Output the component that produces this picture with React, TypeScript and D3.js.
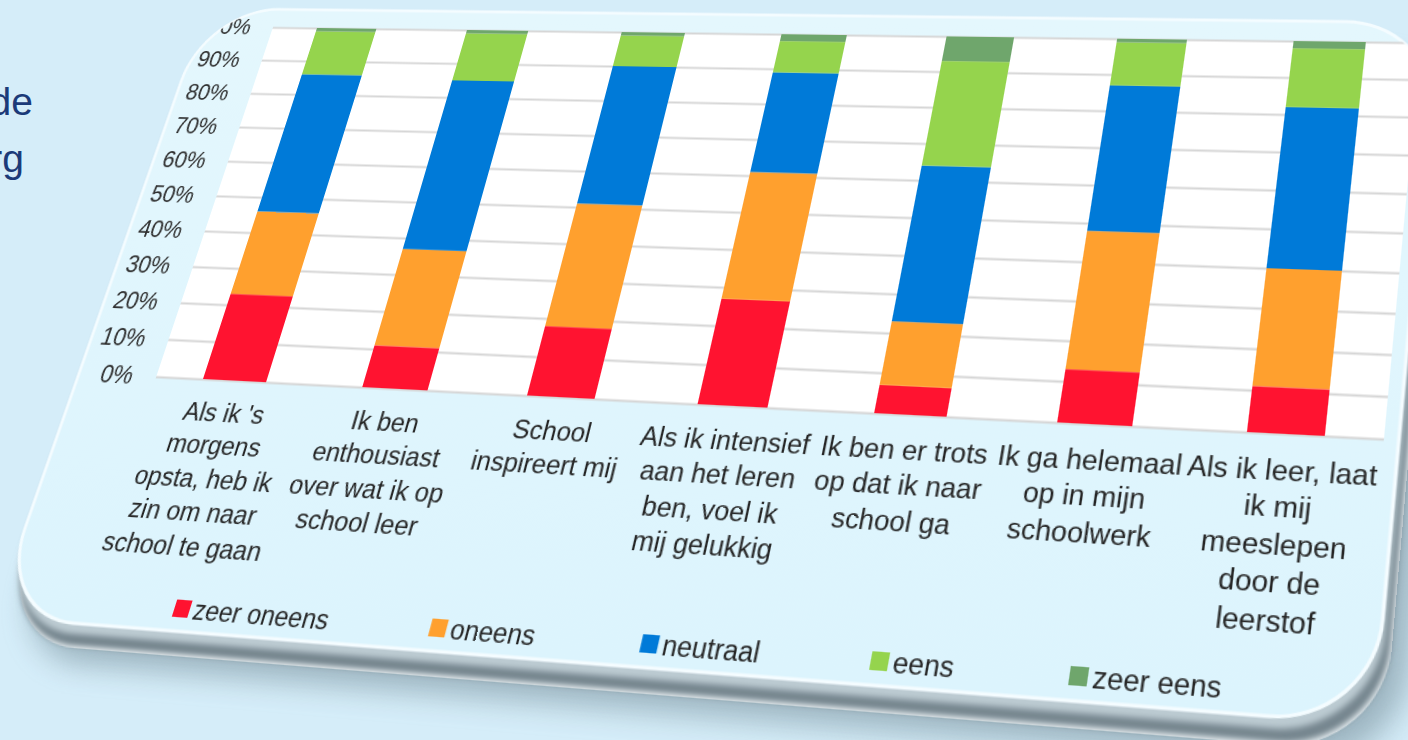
import { useEffect, useRef } from 'react';
import * as d3 from 'd3';

// Category labels, already wrapped the way the chart shows them
const categories: string[][] = [
  ["Als ik 's", 'morgens', 'opsta, heb ik', 'zin om naar', 'school te gaan'],
  ['Ik ben', 'enthousiast', 'over wat ik op', 'school leer'],
  ['School', 'inspireert mij'],
  ['Als ik intensief', 'aan het leren', 'ben, voel ik', 'mij gelukkig'],
  ['Ik ben er trots', 'op dat ik naar', 'school ga'],
  ['Ik ga helemaal', 'op in mijn', 'schoolwerk'],
  ['Als ik leer, laat', 'ik mij', 'meeslepen', 'door de', 'leerstof'],
];

const seriesNames = ['zeer oneens', 'oneens', 'neutraal', 'eens', 'zeer eens'];
const seriesColors = ['#ff1330', '#ffa02e', '#007ad8', '#95d44d', '#6fa66c'];

// percentages per category
const zeerOneens = [23, 11, 18, 27, 7, 13, 11];
const oneens = [23, 26, 33, 34, 16, 35, 29];
const neutraal = [40, 48, 39, 28, 41, 39, 42];
const eens = [13, 14, 9, 9, 29, 12, 16];
const zeerEens = [1, 1, 1, 2, 7, 1, 2];

const yTicks = [0, 10, 20, 30, 40, 50, 60, 70, 80, 90, 100];

const FONT = '"Liberation Sans", Arial, sans-serif';

// solve the plane-to-screen projective transform from 4 point pairs
function homography(src: number[][], dst: number[][]) {
  const A: number[][] = [];
  const b: number[] = [];
  for (let i = 0; i < 4; i++) {
    const [x, y] = src[i];
    const [u, v] = dst[i];
    A.push([x, y, 1, 0, 0, 0, -x * u, -y * u]);
    b.push(u);
    A.push([0, 0, 0, x, y, 1, -x * v, -y * v]);
    b.push(v);
  }
  for (let c = 0; c < 8; c++) {
    let p = c;
    for (let r = c + 1; r < 8; r++) if (Math.abs(A[r][c]) > Math.abs(A[p][c])) p = r;
    [A[c], A[p]] = [A[p], A[c]];
    [b[c], b[p]] = [b[p], b[c]];
    for (let r = 0; r < 8; r++) {
      if (r === c) continue;
      const f = A[r][c] / A[c][c];
      for (let k = c; k < 8; k++) A[r][k] -= f * A[c][k];
      b[r] -= f * b[c];
    }
  }
  const h = b.map((v, i) => v / A[i][i]);
  return `matrix3d(${h[0]},${h[3]},0,${h[6]},${h[1]},${h[4]},0,${h[7]},0,0,1,0,${h[2]},${h[5]},0,1)`;
}

const FW = 1400;
const FH = 800;
const OX = 130;
const OY = 60;
const PW = 1120;
const PH = 360;

export default function App() {
  const svgRef = useRef<SVGSVGElement>(null);

  useEffect(() => {
    if (!svgRef.current) return;
    const root = d3.select(svgRef.current);
    root.selectAll('*').remove();

    const card = { x: -80, y: -20, w: 1212, h: 606, r: 80 };
    const cardRect = (sel: d3.Selection<SVGRectElement, unknown, null, undefined>, dx: number, dy: number) =>
      sel.attr('x', card.x + dx).attr('y', card.y + dy).attr('width', card.w).attr('height', card.h).attr('rx', card.r);

    const defs = root.append('defs');
    defs.append('filter').attr('id', 'blur10').attr('x', '-10%').attr('y', '-10%').attr('width', '120%').attr('height', '120%')
      .append('feGaussianBlur').attr('stdDeviation', 12);
    defs.append('filter').attr('id', 'blur2')
      .append('feGaussianBlur').attr('stdDeviation', 2.5);
    const faceGrad = defs.append('linearGradient').attr('id', 'face').attr('x1', 0).attr('y1', 0).attr('x2', 0).attr('y2', 1);
    faceGrad.append('stop').attr('offset', '0%').attr('stop-color', '#e4f7fd');
    faceGrad.append('stop').attr('offset', '100%').attr('stop-color', '#dcf4fd');
    defs.append('clipPath').attr('id', 'cardClip')
      .append('rect')
      .attr('x', card.x).attr('y', card.y).attr('width', card.w).attr('height', card.h).attr('rx', card.r);

    const g = root.append('g').attr('transform', `translate(${OX},${OY})`);

    // shadow and thickness of the card
    g.append('rect').call(cardRect, 24, 34)
      .attr('fill', '#6d8591').attr('opacity', 0.55).attr('filter', 'url(#blur10)');
    g.append('rect').call(cardRect, 9, 21).attr('fill', '#eef5f8');
    g.append('rect').call(cardRect, 8, 19).attr('fill', '#74858e').attr('filter', 'url(#blur2)');
    g.append('rect').call(cardRect, 3, 9).attr('fill', '#bccbd2').attr('filter', 'url(#blur2)');
    g.append('rect').call(cardRect, 0, 0)
      .attr('fill', 'url(#face)').attr('stroke', '#f4fcff').attr('stroke-width', 3);

    const chart = g.append('g').attr('clip-path', 'url(#cardClip)');

    const x = d3.scaleBand<number>()
      .domain(d3.range(categories.length))
      .range([0, PW])
      .paddingInner(0.6)
      .paddingOuter(0.3);
    const y = d3.scaleLinear().domain([0, 100]).range([PH, 0]);

    // plot area
    chart.append('rect').attr('x', 0).attr('y', 0).attr('width', PW).attr('height', PH).attr('fill', '#ffffff');

    chart.append('g')
      .call(d3.axisLeft(y).tickValues(yTicks).tickSize(-PW).tickFormat(() => ''))
      .call(s => s.select('.domain').remove())
      .selectAll('line')
      .attr('stroke', '#d6d6d6')
      .attr('stroke-width', 2);

    const rows = categories.map((_, i) => ({
      i,
      'zeer oneens': zeerOneens[i],
      oneens: oneens[i],
      neutraal: neutraal[i],
      eens: eens[i],
      'zeer eens': zeerEens[i],
    }));
    const stacked = d3.stack<any>().keys(seriesNames)(rows);

    chart.selectAll('.series')
      .data(stacked)
      .enter()
      .append('g')
      .attr('fill', (_, k) => seriesColors[k])
      .selectAll('rect')
      .data(d => d)
      .enter()
      .append('rect')
      .attr('x', d => x(d.data.i)!)
      .attr('width', x.bandwidth())
      .attr('y', d => y(d[1]))
      .attr('height', d => y(d[0]) - y(d[1]));

    // y tick labels
    chart.selectAll('.ytl')
      .data(yTicks)
      .enter()
      .append('text')
      .attr('x', -24)
      .attr('y', d => y(d))
      .attr('dy', '0.35em')
      .attr('text-anchor', 'end')
      .attr('font-family', FONT)
      .attr('font-size', 23)
      .attr('fill', '#2e2e2e')
      .text(d => `${d}%`);

    // category labels
    const cl = chart.selectAll('.cat')
      .data(categories)
      .enter()
      .append('text')
      .attr('text-anchor', 'middle')
      .attr('font-family', FONT)
      .attr('font-size', 24)
      .attr('fill', '#262626');
    cl.each(function (lines, i) {
      const t = d3.select(this);
      lines.forEach((line, j) => {
        t.append('tspan')
          .attr('x', x(i)! + x.bandwidth() / 2)
          .attr('y', PH + 39 + j * 30.5)
          .text(line);
      });
    });

    // legend
    const legend = chart.append('g').attr('transform', `translate(92,${PH + 215})`);
    let lx = 0;
    seriesNames.forEach((name, k) => {
      const item = legend.append('g').attr('transform', `translate(${lx},0)`);
      item.append('rect').attr('x', 0).attr('y', -16).attr('width', 15).attr('height', 15).attr('fill', seriesColors[k]);
      const txt = item.append('text')
        .attr('x', 19)
        .attr('y', 0)
        .attr('font-family', FONT)
        .attr('font-size', 23.5)
        .attr('fill', '#262626')
        .text(name);
      const w = (txt.node() as SVGTextElement).getComputedTextLength();
      lx += 19 + w + 95;
    });
  }, []);

  const transform = homography(
    [[OX + 48, OY], [OX + 1072, OY], [OX + 48, OY + PH], [OX + 1072, OY + PH]],
    [[317, 28], [1366, 42], [203, 379], [1325, 436]],
  );

  return (
    <div style={{ position: 'fixed', left: 0, top: 0, width: 1408, height: 740, overflow: 'hidden', background: '#d5edf9' }}>
      <svg width={1408} height={740} style={{ position: 'absolute', left: 0, top: 0 }}>
        <text x={33} y={115} textAnchor="end" fontFamily={FONT} fontSize={39} fill="#1b3a78">de</text>
        <text x={24} y={172} textAnchor="end" fontFamily={FONT} fontSize={39} fill="#1b3a78">rg</text>
      </svg>
      <div style={{ position: 'absolute', left: 0, top: 0, width: FW, height: FH, transformOrigin: '0 0', transform }}>
        <svg ref={svgRef} width={FW} height={FH} style={{ display: 'block', overflow: 'visible' }} />
      </div>
    </div>
  );
}
